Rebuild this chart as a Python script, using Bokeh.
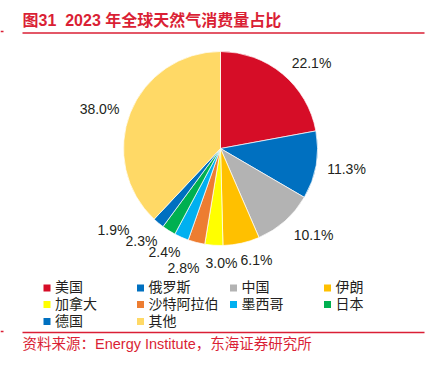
import math
from bokeh.plotting import figure
from bokeh.models import Range1d, ColumnDataSource
from bokeh.core.properties import value
from bokeh.embed import file_html
from bokeh.resources import INLINE

# ---- data ----
countries = ["美国", "俄罗斯", "中国", "伊朗", "加拿大", "沙特阿拉伯", "墨西哥", "日本", "德国", "其他"]
shares = [22.1, 11.3, 10.1, 6.1, 3.0, 2.8, 2.4, 2.3, 1.9, 38.0]
colors = ["#D60D27", "#0070C0", "#B3B3B3", "#FFC000", "#FFFF00", "#ED7D31", "#00B0F0", "#00B050", "#0070C0", "#FFD966"]
label_texts = [f"{s:.1f}%" for s in shares]
title_text = "图31\u00a0 2023 年全球天然气消费量占比"
source_text = "资料来源：Energy Institute，东海证券研究所"

# ---- layout (screen px converted to plot units) ----
W, H = 426, 368
def sx(x): return x
def sy(y): return H - y

FONT = "Liberation Sans, Noto Sans CJK SC"
RED = "#DA1F35"

p = figure(width=W, height=H, output_backend="svg", toolbar_location=None,
           x_range=Range1d(0, W), y_range=Range1d(0, H), min_border=0)
p.axis.visible = False
p.grid.visible = False
p.outline_line_color = None
p.background_fill_color = "white"
p.border_fill_color = "white"

# pie
total = sum(shares)
starts, ends = [], []
acc = 0.0
for s in shares:
    starts.append(math.pi / 2 - acc / total * 2 * math.pi)
    acc += s
    ends.append(math.pi / 2 - acc / total * 2 * math.pi)
src = ColumnDataSource(dict(start=starts, end=ends, color=colors))
cx, cy, r = sx(220), sy(148), 97
p.wedge(x=cx, y=cy, radius=r, start_angle="start", end_angle="end", direction="clock",
        fill_color="color", line_color="white", line_width=0.7, source=src)

# percentage labels (positions per slice)
lab_pos = [(311, 62), (346, 168), (313, 234), (256, 259), (221, 262),
           (183, 267), (164, 251), (141, 240), (113, 229), (99, 108)]
p.text(x=[sx(a) for a, b in lab_pos], y=[sy(b) for a, b in lab_pos], text=label_texts,
       text_font=value(FONT), text_font_size="14px", text_color="#231F20",
       text_align="center", text_baseline="middle")

# title
p.text(x=[sx(22)], y=[sy(20)], text=[title_text], text_font=value(FONT),
       text_font_size="16px", text_font_style="bold", text_color=RED,
       text_align="left", text_baseline="middle")
p.segment(x0=[sx(22), sx(0)], y0=[sy(32.5), sy(31)], x1=[sx(424), sx(3)], y1=[sy(32.5), sy(31)],
          line_color=RED, line_width=1.5)

# legend
col_x = [46.5, 140, 233, 327]
row_y = [286.5, 303, 320]
lx, ly, tx = [], [], []
for i in range(len(countries)):
    c, rr = i % 4, i // 4
    lx.append(sx(col_x[c])); ly.append(sy(row_y[rr] + 1))
    tx.append(sx(col_x[c] + 8))
p.scatter(x=lx, y=ly, marker="square", size=7, fill_color=colors, line_color=None)
p.text(x=tx, y=[sy(row_y[i // 4]) for i in range(len(countries))], text=countries,
       text_font=value(FONT), text_font_size="14px", text_color="#231F20",
       text_align="left", text_baseline="middle")

# footer
p.segment(x0=[sx(22), sx(0)], y0=[sy(332), sy(331)], x1=[sx(424), sx(3)], y1=[sy(332), sy(331)],
          line_color=RED, line_width=1.5)
p.text(x=[sx(22)], y=[sy(343.5)], text=[source_text], text_font=value(FONT),
       text_font_size="14.5px", text_color=RED, text_align="left", text_baseline="middle")

open("out.html", "w").write(file_html(p, INLINE))
